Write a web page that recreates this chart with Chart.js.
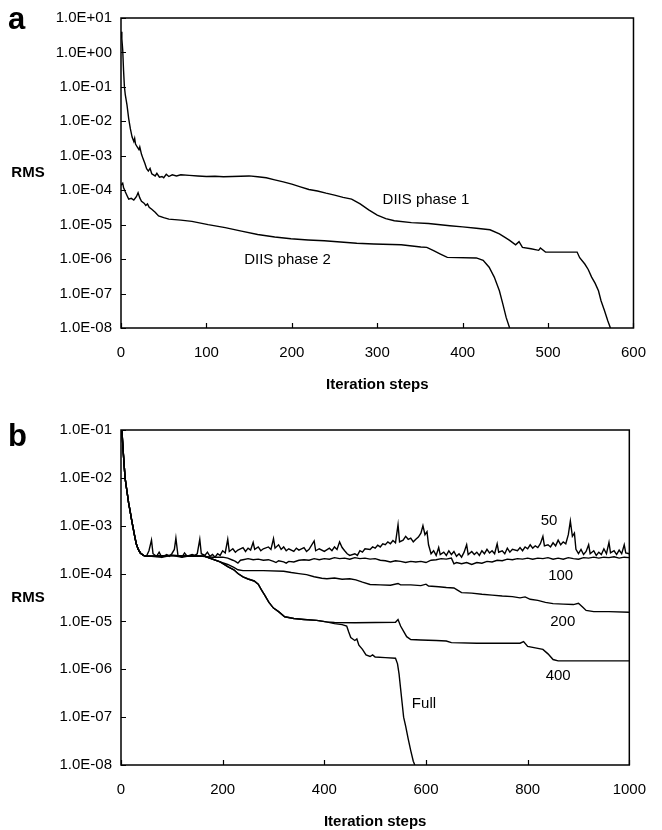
<!DOCTYPE html>
<html lang="en">
<head>
<meta charset="UTF-8" />
<title>DIIS convergence</title>
<script src="https://cdn.jsdelivr.net/npm/chart.js"></script>
<style>
  html, body { margin: 0; padding: 0; background: #fff; }
  #wrap { position: relative; width: 662px; height: 830px; }
  #chartA { position: absolute; left: 0; top: 0; }
  #chartB { position: absolute; left: 0; top: 405px; }
</style>
</head>
<body>
<div id="wrap">
  <canvas id="chartA" width="662" height="405"></canvas>
  <canvas id="chartB" width="662" height="425"></canvas>
</div>

<script>
// ---- panel a: [iteration, RMS] ----
const phase1 = [[0, 4.0], [1, 2.5], [2, 1.2], [3, 0.3], [4, 0.1], [5, 6e-2], [7, 3e-2], [9, 1.2e-2],
  [11, 6e-3], [13, 3.5e-3], [15, 2.6e-3], [16, 3.2e-3], [17, 2.2e-3], [19, 1.8e-3], [21, 1.5e-3],
  [22, 1.8e-3], [24, 1.1e-3], [26, 8e-4], [28, 6e-4], [30, 4.2e-4], [32, 3.6e-4], [34, 4.3e-4],
  [36, 3.0e-4], [40, 2.6e-4], [42, 3.1e-4], [45, 2.4e-4], [48, 2.5e-4], [50, 2.3e-4], [53, 2.9e-4],
  [56, 2.5e-4], [60, 2.8e-4], [65, 2.6e-4], [70, 2.8e-4], [80, 2.7e-4], [90, 2.6e-4], [100, 2.5e-4],
  [110, 2.55e-4], [120, 2.45e-4], [130, 2.5e-4], [140, 2.55e-4], [150, 2.6e-4], [160, 2.45e-4],
  [170, 2.3e-4], [180, 2.0e-4], [190, 1.75e-4], [200, 1.5e-4], [210, 1.25e-4], [220, 1.05e-4],
  [230, 9.5e-5], [240, 8.2e-5], [250, 7.2e-5], [260, 6.2e-5], [270, 5.5e-5], [280, 4.0e-5],
  [290, 2.7e-5], [300, 1.9e-5], [310, 1.5e-5], [320, 1.3e-5], [340, 1.15e-5], [360, 1.08e-5],
  [385, 9.3e-6], [400, 8.6e-6], [416, 7.9e-6], [432, 7.1e-6], [443, 5.4e-6], [450, 4.2e-6],
  [455, 3.5e-6], [462, 2.6e-6], [466, 3.2e-6], [470, 2.2e-6], [480, 2.0e-6], [489, 1.8e-6],
  [491, 2.1e-6], [497, 1.6e-6], [534, 1.6e-6], [537, 1.1e-6], [543, 7.2e-7], [547, 5e-7],
  [551, 3e-7], [555, 2e-7], [559, 1.2e-7], [562, 6.2e-8], [566, 3.2e-8], [570, 1.6e-8], [573, 1e-8]];

const phase2 = [[0, 1.4e-4], [2, 1.6e-4], [3, 1.2e-4], [5, 9e-5], [7, 7e-5], [9, 5.5e-5], [12, 5.8e-5],
  [15, 5.2e-5], [18, 6.5e-5], [20, 8.5e-5], [22, 6.0e-5], [24, 4.8e-5], [27, 4.2e-5], [29, 3.6e-5],
  [31, 4.0e-5], [33, 3.2e-5], [36, 2.8e-5], [40, 2.3e-5], [44, 1.8e-5], [50, 1.6e-5], [56, 1.45e-5],
  [70, 1.35e-5], [83, 1.25e-5], [102, 1.0e-5], [122, 8.2e-6], [141, 6.5e-6], [160, 5.2e-6],
  [180, 4.4e-6], [199, 3.9e-6], [219, 3.6e-6], [238, 3.4e-6], [257, 3.15e-6], [276, 2.9e-6],
  [296, 2.75e-6], [328, 2.6e-6], [351, 2.25e-6], [358, 2.2e-6], [366, 1.75e-6], [374, 1.4e-6],
  [382, 1.12e-6], [416, 1.08e-6], [424, 9.2e-7], [431, 5.8e-7], [437, 3.0e-7], [443, 1.2e-7],
  [447, 5e-8], [451, 2e-8], [455, 1e-8]];

// ---- panel b: [iteration, RMS] ----
const startB = [[0, 1.1e-1], [2, 9e-2], [4, 4e-2], [6, 2e-2], [8, 1e-2], [10, 7e-3], [12, 5e-3],
  [15, 3e-3], [18, 2e-3], [20, 1.5e-3], [23, 1e-3], [27, 6e-4], [30, 4.2e-4], [34, 3.2e-4],
  [38, 2.7e-4], [44, 2.4e-4], [50, 2.3e-4]];

const hist50 = [[55, 3.0e-4], [60, 5.0e-4], [63, 2.6e-4], [70, 2.3e-4], [75, 2.8e-4], [80, 2.2e-4],
  [90, 2.5e-4], [95, 2.3e-4], [100, 2.6e-4], [105, 3.2e-4], [108, 5.5e-4], [112, 2.4e-4], [120, 2.2e-4],
  [125, 2.7e-4], [130, 2.3e-4], [140, 2.5e-4], [145, 2.4e-4], [150, 2.6e-4], [155, 5.2e-4], [158, 2.6e-4],
  [165, 2.4e-4], [170, 2.8e-4], [175, 2.3e-4], [180, 2.5e-4], [185, 2.2e-4], [190, 2.6e-4], [195, 2.4e-4],
  [200, 3.0e-4], [205, 2.7e-4], [210, 5.2e-4], [213, 2.9e-4], [220, 3.3e-4], [225, 2.8e-4], [230, 3.1e-4],
  [240, 3.5e-4], [245, 2.9e-4], [250, 3.4e-4], [255, 3.1e-4], [260, 4.5e-4], [263, 3.2e-4], [270, 3.6e-4],
  [275, 3.0e-4], [280, 3.3e-4], [290, 3.6e-4], [295, 3.2e-4], [300, 5.4e-4], [303, 3.4e-4], [310, 4.0e-4],
  [315, 3.2e-4], [320, 3.6e-4], [325, 3.0e-4], [330, 3.3e-4], [340, 2.9e-4], [345, 3.4e-4], [350, 3.1e-4],
  [360, 3.5e-4], [365, 2.9e-4], [370, 3.2e-4], [380, 4.8e-4], [383, 3.0e-4], [390, 3.3e-4], [400, 2.9e-4],
  [410, 3.4e-4], [415, 3.0e-4], [420, 3.6e-4], [425, 3.2e-4], [430, 4.6e-4], [435, 3.5e-4], [440, 3.0e-4],
  [445, 2.6e-4], [450, 2.4e-4], [460, 2.6e-4], [465, 2.4e-4], [470, 3.0e-4], [475, 2.8e-4], [480, 3.3e-4],
  [490, 3.2e-4], [495, 3.6e-4], [500, 3.4e-4], [505, 3.9e-4], [510, 3.6e-4], [515, 4.2e-4], [520, 4.0e-4],
  [525, 4.6e-4], [530, 4.2e-4], [535, 4.9e-4], [540, 4.4e-4], [545, 1.05e-3], [548, 4.6e-4], [555, 5.0e-4],
  [560, 6.0e-4], [565, 5.2e-4], [570, 5.5e-4], [575, 4.6e-4], [580, 5.2e-4], [585, 5.8e-4], [590, 7.0e-4],
  [594, 1.0e-3], [598, 6.5e-4], [602, 7.5e-4], [605, 4.0e-4], [610, 2.6e-4], [615, 3.0e-4], [620, 2.4e-4],
  [625, 3.5e-4], [628, 2.5e-4], [635, 2.8e-4], [640, 2.4e-4], [645, 3.0e-4], [650, 2.5e-4], [655, 2.9e-4],
  [660, 2.3e-4], [665, 2.6e-4], [670, 2.2e-4], [675, 2.8e-4], [680, 4.0e-4], [683, 2.5e-4], [690, 2.9e-4],
  [695, 2.5e-4], [700, 2.8e-4], [705, 2.4e-4], [710, 3.0e-4], [715, 2.6e-4], [720, 3.2e-4], [725, 2.7e-4],
  [730, 3.0e-4], [735, 2.6e-4], [740, 4.2e-4], [743, 2.8e-4], [750, 3.0e-4], [755, 2.6e-4], [760, 3.4e-4],
  [765, 2.8e-4], [770, 3.2e-4], [780, 3.0e-4], [785, 3.5e-4], [790, 3.0e-4], [795, 3.6e-4], [800, 3.3e-4],
  [805, 4.0e-4], [810, 3.4e-4], [815, 3.8e-4], [820, 3.5e-4], [825, 4.2e-4], [830, 6.0e-4], [833, 3.8e-4],
  [840, 4.0e-4], [845, 3.6e-4], [850, 4.4e-4], [855, 3.8e-4], [860, 5.0e-4], [865, 4.0e-4], [870, 4.6e-4],
  [875, 4.2e-4], [880, 6.5e-4], [884, 1.25e-3], [888, 6.0e-4], [892, 7.0e-4], [895, 3.2e-4], [900, 2.6e-4],
  [905, 3.2e-4], [910, 2.5e-4], [915, 2.9e-4], [920, 4.0e-4], [923, 2.6e-4], [930, 3.0e-4], [935, 2.4e-4],
  [940, 2.8e-4], [945, 2.5e-4], [950, 3.3e-4], [955, 2.6e-4], [960, 4.5e-4], [963, 2.7e-4], [970, 3.0e-4],
  [975, 2.5e-4], [980, 3.1e-4], [985, 2.6e-4], [990, 4.0e-4], [993, 2.7e-4], [1000, 2.6e-4]];

const hist100 = [[60, 2.3e-4], [80, 2.2e-4], [100, 2.4e-4], [120, 2.2e-4], [140, 2.4e-4], [160, 2.3e-4],
  [180, 2.2e-4], [200, 2.2e-4], [210, 2.1e-4], [220, 1.9e-4], [225, 1.8e-4], [230, 1.65e-4], [235, 1.9e-4],
  [240, 1.95e-4], [250, 2.05e-4], [260, 1.95e-4], [270, 2.0e-4], [280, 1.9e-4], [290, 1.95e-4], [300, 1.8e-4],
  [305, 1.7e-4], [310, 1.85e-4], [320, 1.75e-4], [325, 1.65e-4], [330, 1.8e-4], [340, 1.75e-4], [350, 1.9e-4],
  [360, 1.95e-4], [370, 1.9e-4], [380, 2.05e-4], [390, 1.95e-4], [400, 2.05e-4], [410, 2.0e-4], [420, 2.15e-4],
  [430, 2.05e-4], [440, 2.1e-4], [450, 2.0e-4], [460, 2.15e-4], [470, 2.05e-4], [480, 2.1e-4], [490, 2.0e-4],
  [500, 2.05e-4], [510, 1.9e-4], [520, 1.85e-4], [530, 1.75e-4], [540, 1.85e-4], [550, 1.8e-4], [560, 1.7e-4],
  [570, 1.8e-4], [580, 1.75e-4], [590, 1.8e-4], [600, 1.7e-4], [610, 1.9e-4], [620, 1.95e-4], [630, 2.05e-4],
  [640, 2.0e-4], [650, 2.1e-4], [655, 1.6e-4], [660, 1.7e-4], [670, 1.6e-4], [680, 1.7e-4], [690, 1.55e-4],
  [700, 1.7e-4], [710, 1.65e-4], [720, 1.8e-4], [730, 1.75e-4], [740, 1.9e-4], [750, 1.85e-4], [760, 2.0e-4],
  [770, 1.95e-4], [780, 2.05e-4], [790, 2.0e-4], [800, 2.1e-4], [810, 2.0e-4], [820, 2.1e-4], [830, 2.05e-4],
  [840, 2.15e-4], [850, 2.0e-4], [860, 2.1e-4], [870, 2.0e-4], [880, 2.15e-4], [890, 2.05e-4], [900, 2.0e-4],
  [910, 2.15e-4], [920, 2.1e-4], [930, 2.2e-4], [940, 2.1e-4], [950, 2.2e-4], [960, 2.15e-4], [970, 2.25e-4],
  [980, 2.1e-4], [990, 2.2e-4], [1000, 2.15e-4]];

const plateauB = [[60, 2.3e-4], [100, 2.4e-4], [140, 2.3e-4], [165, 2.3e-4], [180, 2.0e-4], [195, 1.75e-4]];

const hist200 = [[210, 1.55e-4], [222, 1.35e-4], [230, 1.2e-4], [240, 1.15e-4], [280, 1.15e-4], [320, 1.12e-4],
  [335, 1.05e-4], [350, 1.0e-4], [365, 9.5e-5], [380, 8.6e-5], [395, 8.0e-5], [405, 7.8e-5], [420, 8.1e-5],
  [435, 7.6e-5], [450, 7.8e-5], [462, 7.4e-5], [475, 6.6e-5], [490, 5.9e-5], [510, 5.8e-5], [530, 5.7e-5],
  [545, 6.2e-5], [550, 5.8e-5], [570, 5.8e-5], [590, 5.6e-5], [600, 6.0e-5], [605, 5.5e-5], [625, 5.3e-5],
  [640, 5.1e-5], [655, 5.0e-5], [662, 4.5e-5], [670, 4.0e-5], [690, 3.9e-5], [710, 3.7e-5], [730, 3.55e-5],
  [750, 3.4e-5], [770, 3.3e-5], [785, 3.1e-5], [795, 3.25e-5], [805, 2.9e-5], [820, 2.75e-5], [835, 2.5e-5],
  [850, 2.35e-5], [870, 2.3e-5], [890, 2.25e-5], [900, 2.4e-5], [908, 2.0e-5], [915, 1.7e-5], [930, 1.6e-5],
  [960, 1.6e-5], [1000, 1.55e-5]];

const dropB = [[210, 1.4e-4], [222, 1.2e-4], [230, 1.0e-4], [240, 8.5e-5], [250, 7.7e-5], [262, 7.0e-5],
  [270, 6.0e-5], [276, 4.6e-5], [283, 3.5e-5], [291, 2.5e-5], [300, 1.9e-5], [310, 1.6e-5], [322, 1.25e-5],
  [340, 1.15e-5], [360, 1.1e-5], [385, 1.05e-5], [404, 9.8e-6]];

const hist400 = [[420, 9.5e-6], [460, 9.4e-6], [500, 9.5e-6], [540, 9.6e-6], [545, 1.1e-5], [550, 8.0e-6],
  [556, 6.2e-6], [562, 4.8e-6], [570, 4.2e-6], [590, 4.1e-6], [620, 4.0e-6], [640, 3.9e-6], [650, 3.6e-6],
  [700, 3.5e-6], [740, 3.5e-6], [785, 3.5e-6], [792, 3.8e-6], [800, 3.0e-6], [815, 2.8e-6], [830, 2.6e-6],
  [840, 2.1e-6], [850, 1.6e-6], [860, 1.5e-6], [1000, 1.5e-6]];

const histFull = [[420, 9.0e-6], [435, 8.6e-6], [444, 8.0e-6], [448, 6.0e-6], [452, 4.6e-6], [460, 4.0e-6],
  [464, 4.3e-6], [468, 3.2e-6], [475, 2.6e-6], [482, 2.0e-6], [490, 1.85e-6], [495, 2.0e-6], [500, 1.8e-6],
  [520, 1.75e-6], [540, 1.7e-6], [544, 1.3e-6], [547, 8e-7], [550, 4e-7], [553, 2e-7], [556, 1e-7],
  [560, 6.5e-8], [565, 3.5e-8], [570, 2e-8], [575, 1.2e-8], [578, 1e-8]];

// ---- axes ----
const yTicksA = [1e1, 1e0, 1e-1, 1e-2, 1e-3, 1e-4, 1e-5, 1e-6, 1e-7, 1e-8];
const yLabelsA = ['1.0E+01', '1.0E+00', '1.0E-01', '1.0E-02', '1.0E-03', '1.0E-04', '1.0E-05', '1.0E-06', '1.0E-07', '1.0E-08'];
const xTicksA = [0, 100, 200, 300, 400, 500, 600];
const xLabelsA = ['0', '100', '200', '300', '400', '500', '600'];
const yTicksB = [1e-1, 1e-2, 1e-3, 1e-4, 1e-5, 1e-6, 1e-7, 1e-8];
const yLabelsB = ['1.0E-01', '1.0E-02', '1.0E-03', '1.0E-04', '1.0E-05', '1.0E-06', '1.0E-07', '1.0E-08'];
const xTicksB = [0, 200, 400, 600, 800, 1000];
const xLabelsB = ['0', '200', '400', '600', '800', '1000'];

// curve labels, anchored in data coordinates
const notesA = [['DIIS phase 1', 357, 5.2e-5], ['DIIS phase 2', 195, 9.3e-7]];
const notesB = [['50', 842, 1.26e-3], ['100', 865, 8.9e-5], ['200', 869, 9.7e-6], ['400', 860, 7.2e-7], ['Full', 596, 1.94e-7]];

const FONT = '"Liberation Sans", Arial, sans-serif';

const toXY = pts => pts.map(p => ({ x: p[0], y: p[1] }));
const line = pts => ({
  data: toXY(pts), borderColor: '#000', borderWidth: 1.4,
  pointRadius: 0, fill: false, tension: 0
});

const decor = {
  id: 'decor',
  afterDraw(chart, args, o) {
    const { ctx, chartArea: a, scales: { x, y } } = chart;
    ctx.save();
    ctx.strokeStyle = '#000';
    ctx.lineWidth = 1.5;
    ctx.strokeRect(a.left, a.top, a.right - a.left, a.bottom - a.top);
    ctx.lineWidth = 1.2;
    ctx.beginPath();
    y.ticks.forEach(t => {
      const py = Math.round(y.getPixelForValue(t.value)) + 0.5;
      ctx.moveTo(a.left, py); ctx.lineTo(a.left + 5, py);
    });
    x.ticks.forEach(t => {
      const px = Math.round(x.getPixelForValue(t.value)) + 0.5;
      ctx.moveTo(px, a.bottom); ctx.lineTo(px, a.bottom - 5);
    });
    ctx.stroke();

    ctx.fillStyle = '#000';
    ctx.textAlign = 'center';
    ctx.textBaseline = 'middle';
    ctx.font = 'bold 15px ' + FONT;
    ctx.fillText('RMS', 28, (a.top + a.bottom) / 2);
    ctx.fillText('Iteration steps', (a.left + a.right) / 2, a.bottom + 57);
    ctx.font = '15px ' + FONT;
    o.notes.forEach(n => ctx.fillText(n[0], x.getPixelForValue(n[1]), y.getPixelForValue(n[2])));
    ctx.textAlign = 'left';
    ctx.textBaseline = 'alphabetic';
    ctx.font = 'bold 31px ' + FONT;
    ctx.fillText(o.letter, 8, o.letterY);
    ctx.restore();
  }
};

function makeChart(id, sets, cfg) {
  return new Chart(document.getElementById(id), {
    type: 'line',
    data: { datasets: sets.map(line) },
    options: {
      responsive: false,
      animation: false,
      parsing: false,
      layout: { padding: { top: cfg.top, right: cfg.right, left: 0, bottom: 0 } },
      plugins: {
        legend: { display: false },
        tooltip: { enabled: false },
        decor: { notes: cfg.notes, letter: cfg.letter, letterY: cfg.letterY }
      },
      scales: {
        x: {
          type: 'linear', min: cfg.xTicks[0], max: cfg.xTicks[cfg.xTicks.length - 1],
          grid: { display: false, drawTicks: false }, border: { display: false },
          afterBuildTicks: s => { s.ticks = cfg.xTicks.map(v => ({ value: v })); },
          afterFit: s => { s.height = cfg.xHeight; },
          ticks: { padding: 16, color: '#000', font: { family: FONT, size: 15 },
            maxRotation: 0, autoSkip: false, callback: (v, i) => cfg.xLabels[i] }
        },
        y: {
          type: 'logarithmic', min: cfg.yTicks[cfg.yTicks.length - 1], max: cfg.yTicks[0],
          grid: { display: false, drawTicks: false }, border: { display: false },
          afterBuildTicks: s => { s.ticks = cfg.yTicks.map(v => ({ value: v })); },
          afterFit: s => { s.width = 121; },
          ticks: { padding: 9, color: '#000', font: { family: FONT, size: 15 },
            autoSkip: false, callback: (v, i) => cfg.yLabels[i] }
        }
      }
    },
    plugins: [decor]
  });
}

makeChart('chartA', [phase1, phase2], {
  top: 18, right: 25, xHeight: 77,
  xTicks: xTicksA, xLabels: xLabelsA, yTicks: yTicksA, yLabels: yLabelsA,
  notes: notesA, letter: 'a', letterY: 29
});

makeChart('chartB', [
  startB.concat(hist50),
  startB.concat(hist100),
  startB.concat(plateauB, hist200),
  startB.concat(plateauB, dropB, hist400),
  startB.concat(plateauB, dropB, histFull)
], {
  top: 25, right: 21, xHeight: 65,
  xTicks: xTicksB, xLabels: xLabelsB, yTicks: yTicksB, yLabels: yLabelsB,
  notes: notesB, letter: 'b', letterY: 41
});
</script>
</body>
</html>
